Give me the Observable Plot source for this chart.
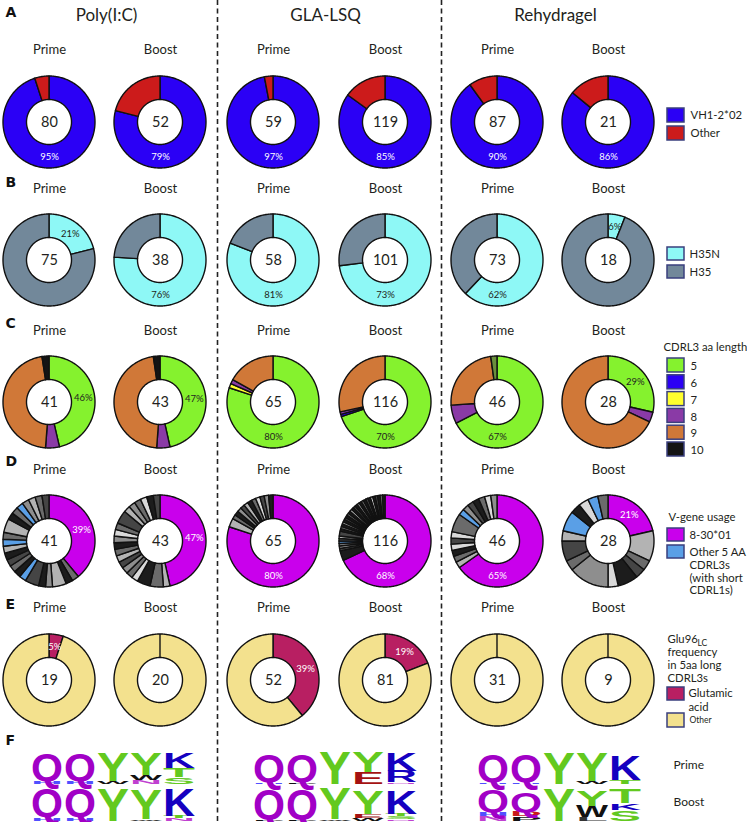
<!DOCTYPE html>
<html><head><meta charset="utf-8">
<script src="https://cdn.jsdelivr.net/npm/d3@7"></script>
<script src="https://cdn.jsdelivr.net/npm/@observablehq/plot@0.6"></script>
<style>
html,body{margin:0;padding:0;background:#fff;}
#chart svg{display:block;}
</style></head><body><div id="chart"></div>
<script>
// ================= DATA =================
const adjuvants = ["Poly(I:C)", "GLA-LSQ", "Rehydragel"];
const phases = ["Prime", "Boost"];
const panelLetters = ["A", "B", "C", "D", "E", "F"];

// A: VH1-2*02 usage
const nA = [80, 52, 59, 119, 87, 21];
const vh1Pct = [95, 79, 97, 85, 90, 86];
const legendA = ["VH1-2*02", "Other"];

// B: H35N
const nB = [75, 38, 58, 101, 73, 18];
const h35nPct = [21, 76, 81, 73, 62, 6];
const legendB = ["H35N", "H35"];

// C: CDRL3 aa length (counts per length, clockwise from top)
const cdrl3Lengths = ["5", "6", "7", "8", "9", "10", "n/a"];
const cdrl3Counts = [
  [19, 0, 0, 2, 19, 1, 0],
  [20, 0, 0, 2, 20, 1, 0],
  [52, 0, 1, 1, 11, 0, 0],
  [81, 1, 0, 1, 33, 0, 0],
  [31, 0, 0, 3, 11, 0, 1],
  [8, 0, 0, 1, 19, 0, 0]
];
const legendC = ["5", "6", "7", "8", "9", "10"];

// D: V-gene usage (slices clockwise from top: [gene class, count])
const vgeneSlices = [
  [["8-30*01",16],["g3",1],["g1",1],["g5",2],["g4",1],["g1",1],["g2",2],["other",1],["g1",1],["g3",1],["g2",1],["g1",1],["g5",1],["other",1],["g3",1],["g5",2],["g1",1],["g3",1],["other",1],["g4",1],["g5",1],["g3",1],["g2",1]],
  [["8-30*01",20],["g5",1],["g3",2],["g1",2],["g6",1],["g3",1],["g4",1],["g2",1],["g5",1],["g3",1],["g1",1],["g4",1],["g6",1],["g3",1],["g2",2],["g5",1],["g4",1],["g3",1],["g6",1],["g1",1],["g2",1]],
  [["8-30*01",52],["g5",2],["g3",1],["g1",1],["g4",1],["g2",1],["g5",1],["g1",1],["g3",1],["g6",1],["g2",1],["g4",1],["g1",1]],
  [["8-30*01",79],["g1",4],["g2",1],["g5",1],["g4",1],["other",1],["g3",1],["g5",1],["g2",2],["g1",1],["g3",1],["g1",1],["g4",1],["g1",1],["g2",1],["g1",1],["g3",1],["g1",1],["g5",1],["g1",1],["g2",1],["g1",1],["g4",1],["g1",1],["g3",1],["g1",1],["g2",1],["g1",1],["g6",1],["g1",1],["g2",1],["g1",1],["g3",1],["g1",1]],
  [["8-30*01",30],["g5",1],["g3",1],["g1",1],["g6",1],["g2",1],["g6",1],["g3",3],["other",1],["g4",1],["g2",1],["g1",1],["g3",1],["g6",1],["g4",1]],
  [["8-30*01",6],["g5",3],["g3",1],["g2",1],["g1",2],["g6",1],["g4",4],["g3",1],["g2",2],["g5",1],["other",2],["g1",1],["g6",1],["other",1],["g3",1]]
];
const legendD = ["8-30*01", "other"];

// E: Glu96 LC frequency in 5aa CDRL3s
const nE = [19, 20, 52, 81, 31, 9];
const glu96Pct = [5, 0, 39, 19, 0, 0];

// F: sequence logos, per position stacks bottom -> top [residue, relative height]
const logoPolyPrime = [[["H",0.07],["Q",0.80]],[["H",0.07],["Q",0.80]],[["W",0.06],["Y",0.82]],[["N",0.11],["W",0.14],["Y",0.66]],[["S",0.20],["T",0.25],["K",0.45]]];
const logoPolyBoost = [[["H",0.09],["Q",0.82]],[["H",0.09],["Q",0.82]],[["Y",0.93]],[["W",0.05],["Y",0.88]],[["N",0.06],["T",0.08],["K",0.78]]];
const logoGlaPrime  = [[["H",0.05],["Q",0.79]],[["P",0.04],["Q",0.79]],[["Y",0.95]],[["E",0.34],["Y",0.59]],[["N",0.05],["R",0.32],["K",0.54]]];
const logoGlaBoost  = [[["P",0.04],["Q",0.86]],[["P",0.03],["Q",0.86]],[["W",0.05],["Y",0.90]],[["W",0.06],["E",0.12],["Y",0.67]],[["N",0.05],["S",0.07],["T",0.08],["K",0.69]]];
const logoRehyPrime = [[["H",0.05],["Q",0.80]],[["H",0.05],["Q",0.80]],[["Y",0.92]],[["W",0.08],["Y",0.83]],[["T",0.10],["K",0.73]]];
const logoRehyBoost = [[["N",0.13],["H",0.12],["Q",0.66]],[["P",0.12],["D",0.13],["Q",0.55]],[["Y",0.94]],[["L",0.10],["W",0.32],["Y",0.45]],[["S",0.30],["K",0.19],["T",0.43]]];

// ================= STYLE / LAYOUT =================
const W = 747, H = 822;
const colX = [49, 160, 273, 385, 497, 608];
const rowY = {A: 122, B: 260, C: 402, D: 541, E: 680};
const subY = {A: 49, B: 188, C: 330, D: 469, E: 607};
const R = 46, R0 = 22.5, RL = 34;
const TXT = "#231f20";
const FONT = "Lato, 'Open Sans', sans-serif";
const LEG_FS = 11.3;

const colorPairs = [
  ["A:VH1-2*02","#2b00f5"],["A:Other","#cc1b1b"],
  ["B:H35N","#8ef8f6"],["B:H35","#72889a"],
  ["C:5","#85f22e"],["C:6","#2b00f5"],["C:7","#ffff2e"],["C:8","#8a3aa6"],["C:9","#d07838"],["C:10","#141414"],["C:n/a","#6a8f3c"],
  ["D:8-30*01","#c900ec"],["D:other","#5a9fe6"],["D:g1","#1c1c1c"],["D:g2","#454545"],["D:g3","#6b6b6b"],["D:g4","#8e8e8e"],["D:g5","#b3b3b3"],["D:g6","#d9d9d9"],
  ["E:Glu","#b81f62"],["E:Other","#f3e18e"],
  ["L:Q","#a100c6"],["L:Y","#63c91f"],["L:T","#63c91f"],["L:S","#63c91f"],["L:K","#1500c0"],["L:R","#1500c0"],
  ["L:H","#5050ff"],["L:E","#a51212"],["L:D","#c81a1a"],["L:W","#111111"],["L:P","#111111"],["L:L","#333333"],["L:N","#c040d0"]
];

// ================= BUILD DONUTS =================
const donuts = [];
for (let c = 0; c < 6; c++) {
  donuts.push({row: "A", col: c, keys: legendA.map(k => "A:" + k), values: [vh1Pct[c], 100 - vh1Pct[c]], n: nA[c], pct: vh1Pct[c], light: true});
  donuts.push({row: "B", col: c, keys: legendB.map(k => "B:" + k), values: [h35nPct[c], 100 - h35nPct[c]], n: nB[c], pct: h35nPct[c], light: false});
  const cc = cdrl3Counts[c], nC = d3.sum(cc);
  donuts.push({row: "C", col: c, keys: cdrl3Lengths.map(k => "C:" + k), values: cc, n: nC, pct: Math.round(100 * cc[0] / nC), light: false});
  const vs = vgeneSlices[c], nD = d3.sum(vs, d => d[1]);
  donuts.push({row: "D", col: c, keys: vs.map(d => "D:" + d[0]), values: vs.map(d => d[1]), n: nD, pct: Math.round(100 * vs[0][1] / nD), light: true});
  donuts.push({row: "E", col: c, keys: ["E:Glu", "E:Other"], values: [glu96Pct[c], 100 - glu96Pct[c]], n: nE[c], pct: glu96Pct[c], light: true});
}

const slicePts = [];
donuts.forEach((d, di) => {
  const cx = colX[d.col], cy = rowY[d.row];
  const total = d3.sum(d.values);
  let acc = 0;
  d.values.forEach((v, i) => {
    if (v <= 0) return;
    const a0 = acc / total * 2 * Math.PI; acc += v;
    const a1 = acc / total * 2 * Math.PI;
    const steps = Math.max(2, Math.ceil((a1 - a0) / (Math.PI / 180)));
    for (let j = 0; j <= steps; j++) {
      const a = a0 + (a1 - a0) * j / steps;
      slicePts.push({id: di + "-" + i, key: d.keys[i],
        ox: cx + R * Math.sin(a), oy: cy - R * Math.cos(a),
        ix: cx + R0 * Math.sin(a), iy: cy - R0 * Math.cos(a)});
    }
  });
  const share = d.pct / 100;
  const la = share > 0.5 ? Math.PI : share * Math.PI;
  d.lx = cx + RL * Math.sin(la);
  d.ly = cy - RL * Math.cos(la);
  d.cx = cx; d.cy = cy;
});

// ================= TEXT / LEGENDS =================
const subtitles = [];
["A","B","C","D","E"].forEach(r => colX.forEach((x, c) => subtitles.push({x, y: subY[r], text: phases[c % 2]})));
const titles = adjuvants.map((t, i) => ({text: t, x: [106, 325, 555][i], y: 15}));
const letterPos = [12, 182, 323, 461, 604, 740];
const panelLabels = panelLetters.map((t, i) => ({text: t, x: 5, y: letterPos[i]}));

const legendSw = [];
const legendTx = [];
legendA.forEach((k, i) => { legendSw.push({key: "A:" + k, y: 108 + 18 * i, h: 14}); legendTx.push({text: k, x: 690, y: 115 + 18 * i}); });
legendB.forEach((k, i) => { legendSw.push({key: "B:" + k, y: 247 + 18 * i, h: 13}); legendTx.push({text: k, x: 689, y: 254 + 18 * i}); });
legendTx.push({text: "CDRL3 aa length", x: 663, y: 347});
legendC.forEach((k, i) => { legendSw.push({key: "C:" + k, y: 358 + 16.8 * i, h: 14}); legendTx.push({text: k, x: 690, y: 366 + 16.8 * i}); });
legendTx.push({text: "V-gene usage", x: 668, y: 517});
legendSw.push({key: "D:8-30*01", y: 528, h: 13});
legendTx.push({text: "8-30*01", x: 689, y: 535});
legendSw.push({key: "D:other", y: 545, h: 13});
["Other 5 AA", "CDRL3s", "(with short", "CDRL1s)"].forEach((t, i) => legendTx.push({text: t, x: 689, y: 552 + 12.7 * i}));
[["Glu96", 639], ["frequency", 652], ["in 5aa long", 665], ["CDRL3s", 678]].forEach(([t, y]) => legendTx.push({text: t, x: 667, y}));
legendSw.push({key: "E:Glu", y: 687, h: 13});
legendTx.push({text: "Glutamic", x: 688, y: 693});
legendTx.push({text: "acid", x: 688, y: 707});
legendSw.push({key: "E:Other", y: 713, h: 14});
const legendSmall = [{text: "LC", x: 697, y: 643}, {text: "Other", x: 689, y: 720}];
const logoRowLabels = [{text: "Prime", x: 673, y: 765}, {text: "Boost", x: 673, y: 802}];

// ================= LOGOS =================
const logoX = [30, 252, 476];
const logoBase = [783, 820];
const logoColW = 33, logoUnit = 35, LOGO_FS = 40;
const logos = [[logoPolyPrime, logoPolyBoost], [logoGlaPrime, logoGlaBoost], [logoRehyPrime, logoRehyBoost]];
const letters = [];
logos.forEach((pair, g) => pair.forEach((logo, row) => logo.forEach((stack, p) => {
  let cum = 0;
  stack.forEach(([L, f]) => {
    letters.push({letter: L, key: "L:" + L, x: logoX[g] + logoColW * p + logoColW / 2, y: logoBase[row] - cum * logoUnit, h: f * logoUnit});
    cum += f;
  });
})));

// ================= PLOT =================
const svg = Plot.plot({
  width: W, height: H,
  margin: 0, marginTop: 0, marginBottom: 0, marginLeft: 0, marginRight: 0,
  x: {domain: [0, W], range: [0, W], axis: null},
  y: {domain: [0, H], range: [0, H], axis: null},
  color: {type: "ordinal", domain: colorPairs.map(d => d[0]), range: colorPairs.map(d => d[1])},
  style: {background: "#fff", fontFamily: FONT},
  marks: [
    Plot.ruleX([217, 441], {y1: 0, y2: H, stroke: "#222", strokeWidth: 1.6, strokeDasharray: "5,3.5"}),
    Plot.area(slicePts, {x1: "ox", y1: "oy", x2: "ix", y2: "iy", z: "id", fill: "key", stroke: "#111", strokeWidth: 1.4, strokeLinejoin: "round", curve: "linear"}),
    Plot.text(donuts, {x: "cx", y: "cy", text: "n", fontSize: 14.5, fill: TXT}),
    Plot.text(donuts.filter(d => d.pct > 0 && d.light), {x: "lx", y: "ly", text: d => d.pct + "%", fontSize: 9.5, fill: "#fff"}),
    Plot.text(donuts.filter(d => d.pct > 0 && !d.light), {x: "lx", y: "ly", text: d => d.pct + "%", fontSize: 9.5, fill: TXT}),
    Plot.text(subtitles, {x: "x", y: "y", text: "text", fontSize: 13, fill: TXT}),
    Plot.text(titles, {x: "x", y: "y", text: "text", fontSize: 17, fill: TXT}),
    Plot.text(panelLabels, {x: "x", y: "y", text: "text", fontSize: 14, fontWeight: "bold", textAnchor: "start", fill: "#111", fontFamily: "'DejaVu Sans', sans-serif"}),
    Plot.rect(legendSw, {x1: 667, x2: 684, y1: "y", y2: d => d.y + d.h, fill: "key", stroke: "#3a3f7e", strokeWidth: 1.5}),
    Plot.text(legendTx, {x: "x", y: "y", text: "text", fontSize: LEG_FS, textAnchor: "start", fill: TXT}),
    Plot.text(legendSmall, {x: "x", y: "y", text: "text", fontSize: 8.5, textAnchor: "start", fill: TXT}),
    Plot.text(logoRowLabels, {x: "x", y: "y", text: "text", fontSize: 12, textAnchor: "start", fill: TXT}),
    Plot.text(letters, {x: "x", y: "y", text: "letter", fill: "key", fontSize: LOGO_FS, fontWeight: "bold", fontFamily: "'Liberation Sans', Arial, sans-serif", lineAnchor: "bottom", textAnchor: "middle", ariaDescription: "logo"})
  ]
});
document.getElementById("chart").append(svg);

// stretch logo letters to their stack heights (heights from the data, via the y scale)
const yScale = svg.scale("y");
const logoTexts = svg.querySelectorAll('g[aria-description="logo"] text');
logoTexts.forEach((t, i) => {
  const d = letters[i];
  if (!d) return;
  const adv = t.getComputedTextLength() || LOGO_FS * 0.7;
  const sx = (logoColW - 1) / adv;
  const hpx = Math.abs(yScale.apply(d.y) - yScale.apply(d.y - d.h));
  const sy = hpx / (0.716 * LOGO_FS);
  let tx, ty;
  const tr = t.getAttribute("transform");
  const m = tr && tr.match(/translate\(\s*([-\d.e]+)[,\s]+([-\d.e]+)\s*\)/);
  if (m) { tx = +m[1]; ty = +m[2]; }
  else { tx = +(t.getAttribute("x") || 0); ty = +(t.getAttribute("y") || 0); t.removeAttribute("x"); t.removeAttribute("y"); }
  t.setAttribute("transform", `translate(${tx},${ty}) scale(${sx.toFixed(4)},${sy.toFixed(4)})`);
});
</script>
</body></html>
